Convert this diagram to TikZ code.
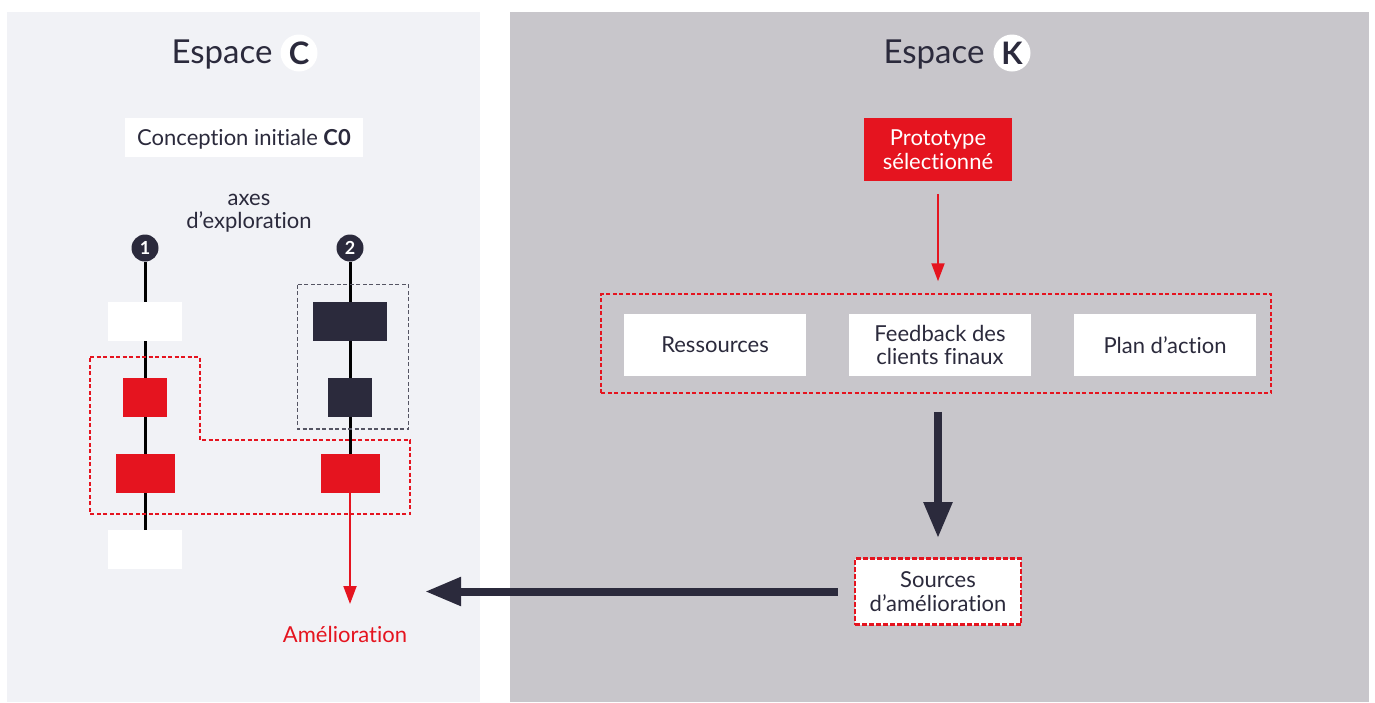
\documentclass[tikz,border=0pt]{standalone}
\usepackage{fontspec}
\setmainfont{Lato}[Ligatures=NoCommon]
\usetikzlibrary{arrows.meta}
\definecolor{ink}{HTML}{2B2A3C}
\definecolor{cred}{HTML}{E5141F}
\definecolor{paneC}{HTML}{F1F2F6}
\definecolor{paneK}{HTML}{C8C6CB}
\tikzset{
  body/.style={font=\fontsize{22}{23.5}\selectfont, text=ink},
  whitebox/.style={fill=white, inner sep=0pt, minimum width=74pt, minimum height=39pt},
  redbox/.style={fill=cred, inner sep=0pt, minimum height=39pt},
  darkbox/.style={fill=ink, inner sep=0pt, minimum height=39pt},
  axisnum/.style={circle, fill=ink, text=white, inner sep=0pt, minimum size=27pt,
    font=\fontsize{18}{18}\selectfont\bfseries},
  spacebadge/.style={circle, fill=white, text=ink, inner sep=0pt, minimum size=37pt,
    font=\fontsize{31}{31}\selectfont\bfseries},
  title/.style={font=\fontsize{33}{33}\selectfont, text=ink, inner sep=0pt},
  axisline/.style={draw=black, line width=3pt},
  kbox/.style={body, fill=white, align=center, inner sep=0pt, minimum width=182pt, minimum height=62pt},
  reddash/.style={draw=cred, line width=1.5pt, dash pattern=on 4pt off 2.5pt},
  bigarrow/.style={draw=ink, line width=8pt, -{Triangle[length=36pt, width=27pt]}},
  redarrow/.style={draw=cred, line width=2pt, -{Triangle[length=18pt, width=13pt]}},
}
\begin{document}
\begin{tikzpicture}[x=1pt, y=-1pt]
\useasboundingbox (0,0) rectangle (1375,702);
% the two spaces
\fill[paneC] (7,12) rectangle (480,702);
\fill[paneK] (510,12) rectangle (1369,702);

% ---------------- space C ----------------
\node[title] (tC) at (222,55) {Espace};
\node[spacebadge] (bC) at (299,53) {C};

\node[body, fill=white, inner sep=0pt, text depth=0pt, minimum width=238pt, minimum height=39pt] (c0) at (244,137.5) {Conception initiale \textbf{C0}};
\node[body, align=center, inner sep=0pt] (axes) at (249,213) {axes\\d’exploration};

% exploration axes
\node[axisnum] (n1) at (145,248) {1};
\node[axisnum] (n2) at (350,248) {2};

\node[whitebox] (w1) at (145,321.5) {};
\node[redbox, minimum width=44pt] (r1) at (145,397.5) {};
\node[redbox, minimum width=59pt] (r2) at (145,473.5) {};
\node[whitebox] (w2) at (145,549.5) {};

\node[darkbox, minimum width=74pt] (d1) at (350,321.5) {};
\node[darkbox, minimum width=44pt] (d2) at (350,397.5) {};
\node[redbox, minimum width=59pt] (r3) at (350,473.5) {};

\draw[axisline] (n1) -- (w1);
\draw[axisline] (w1) -- (r1);
\draw[axisline] (r1) -- (r2);
\draw[axisline] (r2) -- (w2);
\draw[axisline] (n2) -- (d1);
\draw[axisline] (d1) -- (d2);
\draw[axisline] (d2) -- (r3);

% groupings
\draw[draw=ink!80, line width=1.3pt, dash pattern=on 4pt off 2.5pt] (297.5,284.5) rectangle (408.5,429);
\draw[reddash] (90,357) -- (200,357) -- (200,440) -- (410,440) -- (410,514) -- (90,514) -- cycle;

\node[font=\fontsize{22}{23.5}\selectfont, text=cred, inner sep=0pt] (amel) at (345,634) {Amélioration};
\coordinate (ametip) at (350,604);
\draw[redarrow] (r3.south) -- (ametip);

% ---------------- space K ----------------
\node[title] (tK) at (934,55) {Espace};
\node[spacebadge] (bK) at (1012,53) {K};

\node[font=\fontsize{22}{23.5}\selectfont, text=white, fill=cred, align=center, inner sep=0pt,
      minimum width=148pt, minimum height=62.5pt] (proto) at (938,149.5) {Prototype\\sélectionné};

\node[reddash, inner sep=0pt, minimum width=670pt, minimum height=99pt] (grp) at (936,343.5) {};
\node[kbox] (res) at (715,345) {Ressources};
\node[kbox] (fb) at (940,345) {Feedback des\\clients finaux};
\node[kbox] (plan) at (1165,345) {Plan d’action};

\draw[redarrow, shorten <=13pt, shorten >=12pt] (proto.south) -- (proto.south |- grp.north);

\node[body, align=center, fill=white, draw=cred, line width=2.6pt, dash pattern=on 5pt off 2pt,
      inner sep=0pt, minimum width=166pt, minimum height=66pt] (src) at (938,591.5) {Sources\\d’amélioration};

\coordinate (srctip) at (425,591.5);
\draw[bigarrow, shorten <=18pt, shorten >=19pt] (grp.south -| src.north) -- (src.north);
\draw[bigarrow, shorten <=16pt] (src.west) -- (srctip);
\end{tikzpicture}
\end{document}
